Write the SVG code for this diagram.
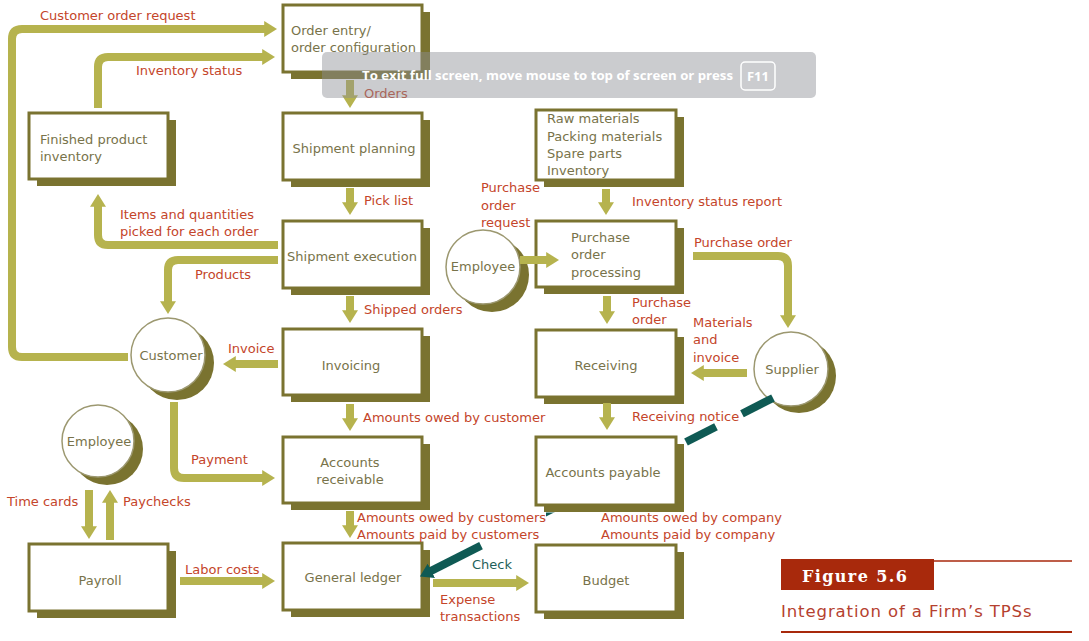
<svg xmlns="http://www.w3.org/2000/svg" width="1089" height="641" viewBox="0 0 1089 641">
<defs>
<style>
.sh{fill:#7a7330}
.fg{fill:#fff;stroke:#7a7330;stroke-width:3}
.csh{fill:#7a7330}
.cfg{fill:#fff;stroke:#9c9870;stroke-width:1.5}
.nt{font-family:"DejaVu Sans","Liberation Sans",sans-serif;font-size:13px;fill:#78734a}
.c{text-anchor:middle}
.lb{font-family:"DejaVu Sans","Liberation Sans",sans-serif;font-size:13px;fill:#c4452a}
.tl{font-family:"DejaVu Sans","Liberation Sans",sans-serif;font-size:13px;fill:#1e5f5a}
.ar{fill:none;stroke:#b6b34e;stroke-width:8;marker-end:url(#ah)}
.te{fill:none;stroke:#0f5a54;stroke-width:8}
</style>
<marker id="ah" viewBox="0 0 8 10" refX="0.5" refY="5" markerWidth="1.6" markerHeight="2" markerUnits="strokeWidth" orient="auto">
<path d="M0,0 L8,5 L0,10 z" fill="#b6b34e"/>
</marker>
<marker id="th" viewBox="0 0 8 10" refX="0.5" refY="5" markerWidth="1.6" markerHeight="2" markerUnits="strokeWidth" orient="auto">
<path d="M0,0 L8,5 L0,10 z" fill="#0f5a54"/>
</marker>
<clipPath id="cp"><rect x="546" y="512.5" width="20" height="20"/></clipPath>
</defs>
<rect width="1089" height="641" fill="#fff"/>

<g id="order-entry"><rect class="sh" x="291" y="12" width="139" height="67"/><rect class="fg" x="283" y="5" width="139" height="67"/><text class="nt" x="291" y="35">Order entry/</text><text class="nt" x="291" y="52">order configuration</text></g>
<g id="shipment-planning"><rect class="sh" x="291" y="120" width="139" height="67"/><rect class="fg" x="283" y="113" width="139" height="67"/><text class="nt c" x="354" y="153">Shipment planning</text></g>
<g id="shipment-execution"><rect class="sh" x="291" y="228" width="139" height="67"/><rect class="fg" x="283" y="221" width="139" height="67"/><text class="nt c" x="352" y="261">Shipment execution</text></g>
<g id="invoicing"><rect class="sh" x="291" y="336" width="139" height="66"/><rect class="fg" x="283" y="329" width="139" height="66"/><text class="nt c" x="351" y="370">Invoicing</text></g>
<g id="accounts-receivable"><rect class="sh" x="291" y="444" width="139" height="66"/><rect class="fg" x="283" y="437" width="139" height="66"/><text class="nt c" x="350" y="467">Accounts</text><text class="nt c" x="350" y="484">receivable</text></g>
<g id="general-ledger"><rect class="sh" x="291" y="550" width="139" height="67"/><rect class="fg" x="283" y="543" width="139" height="67"/><text class="nt c" x="353" y="582">General ledger</text></g>
<g id="finished-product-inventory"><rect class="sh" x="37" y="120" width="139" height="66"/><rect class="fg" x="29" y="113" width="139" height="66"/><text class="nt" x="40" y="144">Finished product</text><text class="nt" x="40" y="161">inventory</text></g>
<g id="payroll"><rect class="sh" x="37" y="551" width="139" height="67"/><rect class="fg" x="29" y="544" width="139" height="67"/><text class="nt c" x="100" y="585">Payroll</text></g>
<g id="raw-materials"><rect class="sh" x="544" y="117" width="140" height="70"/><rect class="fg" x="536" y="110" width="140" height="70"/><text class="nt" x="547" y="123">Raw materials</text><text class="nt" x="547" y="141">Packing materials</text><text class="nt" x="547" y="158">Spare parts</text><text class="nt" x="547" y="175">Inventory</text></g>
<g id="purchase-order-processing"><rect class="sh" x="544" y="228" width="140" height="66"/><rect class="fg" x="536" y="221" width="140" height="66"/><text class="nt" x="571" y="242">Purchase</text><text class="nt" x="571" y="259">order</text><text class="nt" x="571" y="277">processing</text></g>
<g id="receiving"><rect class="sh" x="544" y="337" width="140" height="67"/><rect class="fg" x="536" y="330" width="140" height="67"/><text class="nt c" x="606" y="370">Receiving</text></g>
<g id="accounts-payable"><rect class="sh" x="544" y="444" width="140" height="68"/><rect class="fg" x="536" y="437" width="140" height="68"/><text class="nt c" x="603" y="477">Accounts payable</text></g>
<g id="budget"><rect class="sh" x="544" y="552" width="140" height="67"/><rect class="fg" x="536" y="545" width="140" height="67"/><text class="nt c" x="606" y="585">Budget</text></g>
<g id="customer"><circle class="csh" cx="177" cy="363" r="37"/><circle class="cfg" cx="168" cy="355" r="37"/><text class="nt c" x="171" y="360">Customer</text></g>
<g id="employee-payroll"><circle class="csh" cx="107" cy="449" r="36"/><circle class="cfg" cx="98" cy="441" r="36"/><text class="nt c" x="99" y="446">Employee</text></g>
<g id="employee-purchasing"><circle class="csh" cx="492" cy="275" r="37"/><circle class="cfg" cx="483" cy="267" r="37"/><text class="nt c" x="483" y="271">Employee</text></g>
<g id="supplier"><circle class="csh" cx="799" cy="376" r="37"/><circle class="cfg" cx="791" cy="369" r="37"/><text class="nt c" x="792" y="374">Supplier</text></g>

<g id="connectors">
<path class="ar" d="M128,357 H22 Q12,357 12,347 V39 Q12,29 22,29 H265"/>
<path class="ar" d="M98,108 V67 Q98,57 108,57 H263"/>
<path class="ar" d="M350,80 V96"/>
<path class="ar" d="M350,188 V203"/>
<path class="ar" d="M350,296 V311"/>
<path class="ar" d="M350,404 V419"/>
<path class="ar" d="M350,511 V526"/>
<path class="ar" d="M278,245 H108 Q98,245 98,235 V206"/>
<path class="ar" d="M278,260 H178 Q168,260 168,270 V302"/>
<path class="ar" d="M278,364 H235"/>
<path class="ar" d="M174,402 V468 Q174,478 184,478 H263"/>
<path class="ar" d="M89,490 V527"/>
<path class="ar" d="M110,540 V502"/>
<path class="ar" d="M180,581 H263"/>
<path class="ar" d="M433,583 H517"/>
<path class="ar" d="M606,189 V203"/>
<path class="ar" d="M520,260 H547"/>
<path class="ar" d="M693,256 H778 Q788,256 788,266 V316"/>
<path class="ar" d="M607,296 V312"/>
<path class="ar" d="M747,373 H703"/>
<path class="ar" d="M607,403 V418"/>
<path class="te" d="M773,398 L742,413.7"/>
<path class="te" d="M716,426.8 L686,442"/>
<path class="te" d="M566,502 L530,520.2" clip-path="url(#cp)"/>
<path class="te" d="M481,545.6 L430.6,571.1" marker-end="url(#th)"/>
</g>

<g id="labels">
<text class="lb" x="40" y="20">Customer order request</text>
<text class="lb" x="136" y="75">Inventory status</text>
<text class="lb" x="364" y="98">Orders</text>
<text class="lb" x="364" y="205">Pick list</text>
<text class="lb" x="120" y="219">Items and quantities</text>
<text class="lb" x="120" y="236">picked for each order</text>
<text class="lb" x="195" y="279">Products</text>
<text class="lb" x="364" y="314">Shipped orders</text>
<text class="lb" x="228" y="353">Invoice</text>
<text class="lb" x="363" y="422">Amounts owed by customer</text>
<text class="lb" x="191" y="464">Payment</text>
<text class="lb" x="7" y="506">Time cards</text>
<text class="lb" x="123" y="506">Paychecks</text>
<text class="lb" x="185" y="574">Labor costs</text>
<text class="lb" x="357" y="522">Amounts owed by customers</text>
<text class="lb" x="357" y="539">Amounts paid by customers</text>
<text class="tl" x="472" y="569">Check</text>
<text class="lb" x="440" y="604">Expense</text>
<text class="lb" x="440" y="621">transactions</text>
<text class="lb" x="601" y="522">Amounts owed by company</text>
<text class="lb" x="601" y="539">Amounts paid by company</text>
<text class="lb" x="481" y="192">Purchase</text>
<text class="lb" x="481" y="210">order</text>
<text class="lb" x="481" y="227">request</text>
<text class="lb" x="632" y="206">Inventory status report</text>
<text class="lb" x="694" y="247">Purchase order</text>
<text class="lb" x="632" y="307">Purchase</text>
<text class="lb" x="632" y="324">order</text>
<text class="lb" x="693" y="327">Materials</text>
<text class="lb" x="693" y="344">and</text>
<text class="lb" x="693" y="362">invoice</text>
<text class="lb" x="632" y="421">Receiving notice</text>
</g>

<g id="caption">
<rect x="781" y="559" width="153" height="31" fill="#a8290c"/>
<line x1="934" y1="561" x2="1072" y2="561" stroke="#a8290c" stroke-width="1.6"/>
<text x="802" y="582" font-family="'DejaVu Serif','Liberation Serif',serif" font-weight="bold" font-size="16" letter-spacing="1.4" fill="#fff">Figure 5.6</text>
<text x="781" y="617" font-family="'DejaVu Sans','Liberation Sans',sans-serif" font-size="16.5" letter-spacing="0.9" fill="#b5412f">Integration of a Firm’s TPSs</text>
<line x1="781" y1="632" x2="1072" y2="632" stroke="#a8290c" stroke-width="2"/>
</g>

<g id="fullscreen-notice">
<rect x="322" y="52" width="494" height="46" rx="5" fill="rgb(140,142,148)" fill-opacity="0.45"/>
<text x="362" y="80" font-family="'Open Sans','Noto Sans',sans-serif" font-weight="bold" font-size="13" fill="#fff" textLength="371" lengthAdjust="spacingAndGlyphs">To exit full screen, move mouse to top of screen or press</text>
<rect x="741" y="62" width="34" height="28" rx="4" fill="none" stroke="#fff" stroke-width="1.5"/>
<text x="758" y="81" text-anchor="middle" font-family="'Open Sans','Noto Sans',sans-serif" font-weight="bold" font-size="13" fill="#fff">F11</text>
</g>
</svg>
